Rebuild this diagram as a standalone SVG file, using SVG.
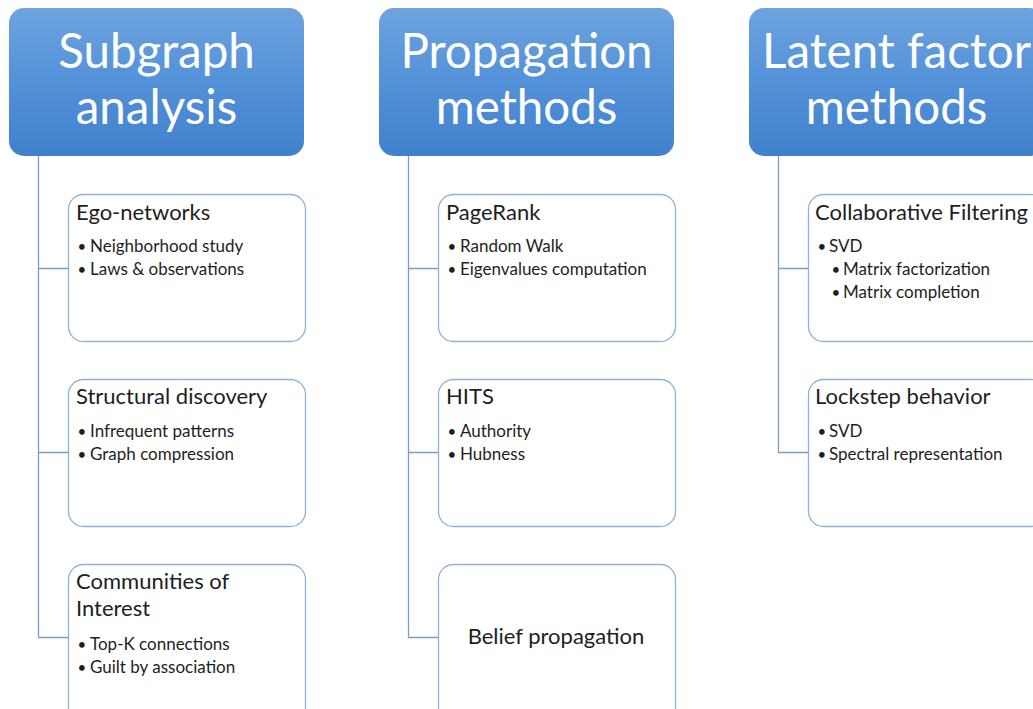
<svg xmlns="http://www.w3.org/2000/svg" width="1033" height="709" viewBox="0 0 1033 709">
<defs>
<linearGradient id="hg" x1="0" y1="0" x2="0" y2="1">
<stop offset="0" stop-color="#6ea3de"/>
<stop offset="0.5" stop-color="#5391d9"/>
<stop offset="1" stop-color="#4181cc"/>
</linearGradient>
</defs>
<style>
.hdr{fill:url(#hg);}
.ht{font-family:Lato,"Open Sans",sans-serif;font-size:47.5px;fill:#ffffff;text-anchor:middle;}
.box{fill:#ffffff;stroke:#8fb2d6;stroke-width:1.3;}
.tt{font-family:Lato,"Open Sans",sans-serif;font-size:22px;fill:#1e1e1e;}
.bt{font-family:Lato,"Open Sans",sans-serif;font-size:17px;fill:#1e1e1e;}
.bl{font-family:Lato,"Open Sans",sans-serif;font-size:15px;fill:#1e1e1e;}
.con{fill:none;stroke:#7a9fc6;stroke-width:1.3;}
</style>
<rect width="1033" height="709" fill="#ffffff"/>
<g id="connectors">
<path class="con" d="M38.5 156 V637.5 H68 M38.5 268.5 H68 M38.5 452.5 H68"/>
<path class="con" d="M408.5 156 V637.5 H438 M408.5 268.5 H438 M408.5 452.5 H438"/>
<path class="con" d="M778.5 156 V452.5 H808 M778.5 268.5 H808"/>
</g>
<g id="h1"><rect class="hdr" x="9" y="8" width="295" height="148" rx="15"/><text class="ht" x="156.5" y="68">Subgraph</text><text class="ht" x="156.5" y="124">analysis</text></g>
<g id="h2"><rect class="hdr" x="379" y="8" width="295" height="148" rx="15"/><text class="ht" x="526.5" y="68">Propagation</text><text class="ht" x="526.5" y="124">methods</text></g>
<g id="h3"><rect class="hdr" x="749" y="8" width="295" height="148" rx="15"/><text class="ht" x="896.5" y="68">Latent factor</text><text class="ht" x="896.5" y="124">methods</text></g>

<g id="n11"><rect class="box" x="68.5" y="194.5" width="237" height="147" rx="15"/><text class="tt" x="76" y="220">Ego-networks</text><text class="bl" x="77.5" y="252">•</text><text class="bt" x="90" y="252">Neighborhood study</text><text class="bl" x="77.5" y="275">•</text><text class="bt" x="90" y="275">Laws &amp; observations</text></g>
<g id="n12"><rect class="box" x="68.5" y="379.5" width="237" height="147" rx="15"/><text class="tt" x="76" y="404">Structural discovery</text><text class="bl" x="77.5" y="437">•</text><text class="bt" x="90" y="437">Infrequent patterns</text><text class="bl" x="77.5" y="460">•</text><text class="bt" x="90" y="460">Graph compression</text></g>
<g id="n13"><rect class="box" x="68.5" y="564.5" width="237" height="160" rx="15"/><text class="tt" x="76" y="589">Communities of</text><text class="tt" x="76" y="616">Interest</text><text class="bl" x="77.5" y="650">•</text><text class="bt" x="90" y="650">Top-K connections</text><text class="bl" x="77.5" y="673">•</text><text class="bt" x="90" y="673">Guilt by association</text></g>

<g id="n21"><rect class="box" x="438.5" y="194.5" width="237" height="147" rx="15"/><text class="tt" x="446" y="220">PageRank</text><text class="bl" x="447.5" y="252">•</text><text class="bt" x="460" y="252">Random Walk</text><text class="bl" x="447.5" y="275">•</text><text class="bt" x="460" y="275">Eigenvalues computation</text></g>
<g id="n22"><rect class="box" x="438.5" y="379.5" width="237" height="147" rx="15"/><text class="tt" x="446" y="404">HITS</text><text class="bl" x="447.5" y="437">•</text><text class="bt" x="460" y="437">Authority</text><text class="bl" x="447.5" y="460">•</text><text class="bt" x="460" y="460">Hubness</text></g>
<g id="n23"><rect class="box" x="438.5" y="564.5" width="237" height="160" rx="15"/><text class="tt" x="556" y="644" text-anchor="middle">Belief propagation</text></g>

<g id="n31"><rect class="box" x="808.5" y="194.5" width="237" height="147" rx="15"/><text class="tt" x="815" y="220">Collaborative Filtering</text><text class="bl" x="817.5" y="252">•</text><text class="bt" x="829" y="252">SVD</text><text class="bl" x="831.5" y="275">•</text><text class="bt" x="843" y="275">Matrix factorization</text><text class="bl" x="831.5" y="298">•</text><text class="bt" x="843" y="298">Matrix completion</text></g>
<g id="n32"><rect class="box" x="808.5" y="379.5" width="237" height="147" rx="15"/><text class="tt" x="815" y="404">Lockstep behavior</text><text class="bl" x="817.5" y="437">•</text><text class="bt" x="829" y="437">SVD</text><text class="bl" x="817.5" y="460">•</text><text class="bt" x="829" y="460">Spectral representation</text></g>
</svg>
